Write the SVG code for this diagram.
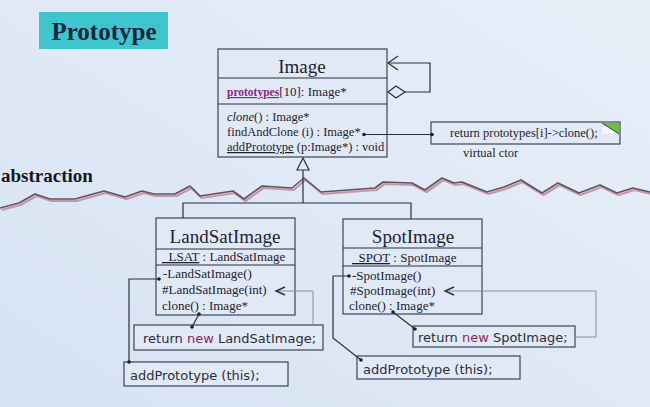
<svg xmlns="http://www.w3.org/2000/svg" width="650" height="407" viewBox="0 0 650 407">
<defs>
<linearGradient id="bg" x1="0" y1="1" x2="1" y2="0">
<stop offset="0" stop-color="#d6e2f3"/>
<stop offset="1" stop-color="#e9eff9"/>
</linearGradient>
<style>
.box{fill:#e1e9f6;stroke:#3c4352;stroke-width:1.2}
.cls{font-family:"Liberation Serif",serif;fill:#1e2230}
.nm{font-size:19px;text-anchor:middle}
.m{font-size:12.5px}
.m2{font-size:13px}
.code{font-family:"DejaVu Sans","Liberation Sans",sans-serif;font-size:13px;fill:#2a2e3a}
.kw{fill:#8a2a5a}
.ln{fill:none;stroke:#2a2f3c;stroke-width:1.2}
.gl{fill:none;stroke:#8a8f99;stroke-width:1}
.dot{fill:#1a1e28}
</style>
</defs>
<rect width="650" height="407" fill="url(#bg)"/>

<g id="title">
<rect x="39" y="12" width="129" height="37" fill="#3ec6cf"/>
<text x="104" y="40" text-anchor="middle" font-family="Liberation Serif,serif" font-weight="bold" font-size="25" fill="#16243f">Prototype</text>
</g>

<g id="abstraction">
<text x="1" y="182" font-family="Liberation Serif,serif" font-weight="bold" font-size="19" fill="#141820">abstraction</text>
<polyline fill="none" stroke="#c995a6" stroke-width="2.2" stroke-linejoin="round" transform="translate(1.5,2)" points="0,208 19,203 35,194 50,199 75,199 104,191 125,197 142,191 154,194 175,194 190,186 200,196 233,191 244,199 262,186 292,188 304,178 321,192 375,188 383,182 412,183 425,190 442,178 454,183 462,182 487,192 504,187 521,180 542,193 558,183 579,193 600,185 617,193 633,188 650,192"/>
<polyline fill="none" stroke="#5a5660" stroke-width="1.6" stroke-linejoin="round" points="0,208 19,203 35,194 50,199 75,199 104,191 125,197 142,191 154,194 175,194 190,186 200,196 233,191 244,199 262,186 292,188 304,178 321,192 375,188 383,182 412,183 425,190 442,178 454,183 462,182 487,192 504,187 521,180 542,193 558,183 579,193 600,185 617,193 633,188 650,192"/>
</g>

<g id="image">
<rect class="box" x="218" y="49" width="169" height="108"/>
<line class="ln" x1="218" y1="78" x2="387" y2="78"/>
<line class="ln" x1="218" y1="104" x2="387" y2="104"/>
<text class="cls nm" x="302" y="73" font-size="19">Image</text>
<text class="cls m2" x="227" y="96"><tspan font-weight="bold" font-size="11.5" fill="#8e1f90" text-decoration="underline">prototypes</tspan>[10]: Image*</text>
<text class="cls m" x="227" y="121"><tspan font-style="italic">clone</tspan>() : Image*</text>
<text class="cls m" x="227" y="136">findAndClone (i) : Image*</text>
<text class="cls m" x="227" y="151"><tspan text-decoration="underline">addPrototype</tspan> (p:Image*) : void</text>
</g>

<g id="virtual-ctor">
<rect class="box" x="431" y="122" width="189" height="22"/>
<polygon points="602,123 602,134 619,134" fill="#f4f7fc"/>
<polygon points="602,123 619,123 619,134" fill="#6cbf3a"/>
<line x1="602" y1="123" x2="619" y2="134" stroke="#3c4352" stroke-width="1"/>
<text class="cls m" x="450" y="137">return prototypes[i]-&gt;clone();</text>
<text class="cls m" x="463" y="157">virtual ctor</text>
</g>

<g id="landsat">
<rect class="box" x="156" y="218" width="139" height="97"/>
<line class="ln" x1="156" y1="249" x2="295" y2="249"/>
<line class="ln" x1="156" y1="265" x2="295" y2="265"/>
<text class="cls nm" x="225" y="243">LandSatImage</text>
<text class="cls m2" x="162" y="261"><tspan text-decoration="underline">_LSAT</tspan> : LandSatImage</text>
<text class="cls m2" x="163" y="278">-LandSatImage()</text>
<text class="cls m2" x="162" y="294">#LandSatImage(int)</text>
<text class="cls m2" x="162" y="310">clone() : Image*</text>
</g>

<g id="spot">
<rect class="box" x="343" y="219" width="139" height="95"/>
<line class="ln" x1="343" y1="248" x2="482" y2="248"/>
<line class="ln" x1="343" y1="266" x2="482" y2="266"/>
<text class="cls nm" x="413" y="243">SpotImage</text>
<text class="cls m2" x="352" y="262"><tspan text-decoration="underline">_SPOT</tspan> : SpotImage</text>
<text class="cls m2" x="352" y="280">-SpotImage()</text>
<text class="cls m2" x="350" y="295">#SpotImage(int)</text>
<text class="cls m2" x="349" y="310">clone() : Image*</text>
</g>

<g id="landsat-new">
<rect class="box" x="134" y="325" width="189" height="25"/>
<text class="code" x="143" y="343">return <tspan class="kw">new</tspan> LandSatImage;</text>
</g>

<g id="landsat-add">
<rect class="box" x="124" y="362" width="164" height="24"/>
<text class="code" x="130" y="380">addPrototype (this);</text>
</g>

<g id="spot-new">
<rect class="box" x="413" y="326" width="162" height="21"/>
<text class="code" x="418" y="342">return <tspan class="kw">new</tspan> SpotImage;</text>
</g>

<g id="spot-add">
<rect class="box" x="357" y="356" width="163" height="23"/>
<text class="code" x="363" y="374">addPrototype (this);</text>
</g>

<g id="connectors">
<polyline class="ln" points="405,92 430,92 430,63 388,63"/>
<polyline class="ln" points="398,56 388,63 398,70"/>
<polygon points="388,92 396,86 405,92 396,98" fill="#e1e9f6" stroke="#2a2f3c" stroke-width="1.2"/>
<line class="ln" x1="364" y1="134.5" x2="431" y2="134.5"/>
<circle class="dot" cx="364" cy="134.5" r="1.8"/>
<circle class="dot" cx="432" cy="134.5" r="1.8"/>
<polygon points="303,158 297,170 309,170" fill="#e1e9f6" stroke="#2a2f3c" stroke-width="1.2"/>
<polyline class="ln" points="303,170 303,203"/>
<polyline class="ln" points="183,218 183,203 411,203 411,219"/>
<polyline class="ln" points="159,279 129,279 129,362"/>
<circle class="dot" cx="159" cy="279" r="1.8"/>
<circle class="dot" cx="129" cy="362" r="1.8"/>
<line class="ln" x1="199" y1="314" x2="192" y2="327"/>
<circle class="dot" cx="199" cy="314" r="1.8"/>
<circle class="dot" cx="192" cy="327" r="1.8"/>
<polyline class="gl" points="313,325 313,291 277,291"/>
<polyline fill="none" stroke="#2a2f3c" stroke-width="1.4" points="285,287 276,291 285,295"/>
<polyline class="ln" points="349,276 333,276 333,338 361,360"/>
<circle class="dot" cx="349" cy="276" r="1.8"/>
<circle class="dot" cx="361" cy="360" r="1.8"/>
<line class="ln" x1="393" y1="312" x2="415" y2="329"/>
<circle class="dot" cx="393" cy="312" r="1.8"/>
<circle class="dot" cx="415" cy="329" r="1.8"/>
<polyline class="gl" points="575,337 596,337 596,291 446,291"/>
<polyline fill="none" stroke="#2a2f3c" stroke-width="1.4" points="454,287 445,291 454,295"/>
</g>
</svg>
